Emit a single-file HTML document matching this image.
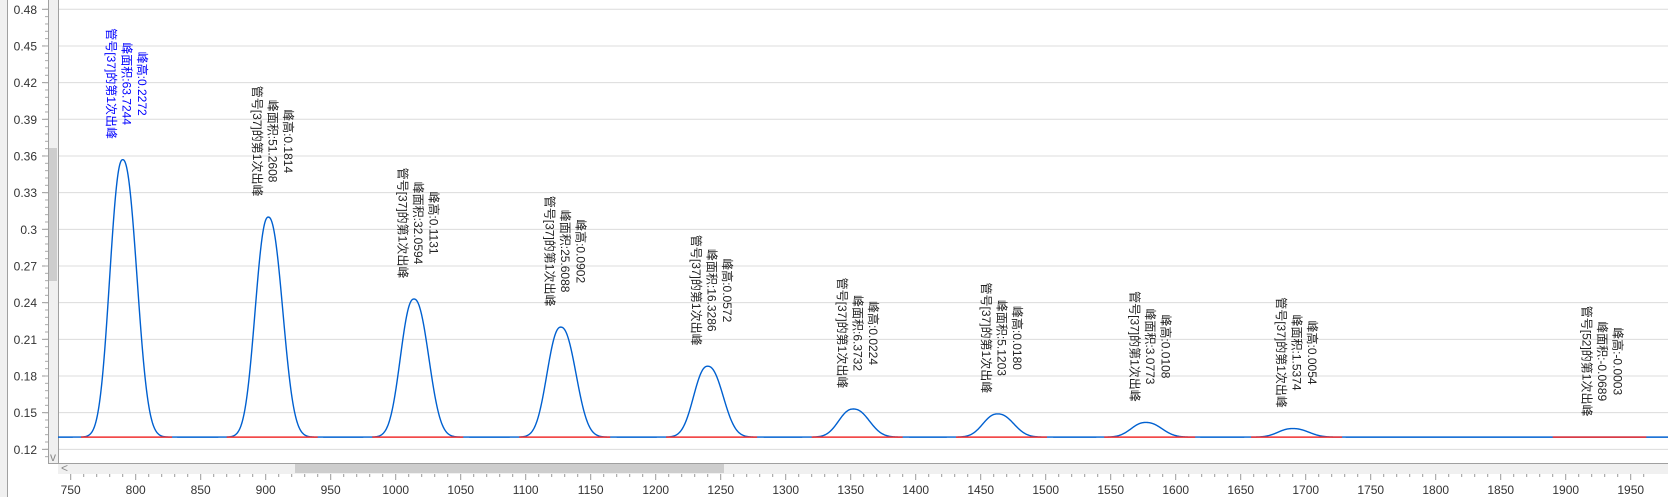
<!DOCTYPE html>
<html><head><meta charset="utf-8"><style>
html,body{margin:0;padding:0;background:#fff;width:1668px;height:497px;overflow:hidden}
svg{display:block}
text{font-family:"Liberation Sans","Noto Sans CJK SC",sans-serif;font-size:12px}
</style></head><body>
<svg id="s" width="1668" height="497" xmlns="http://www.w3.org/2000/svg"></svg>
<script>
const s=document.getElementById('s');
const X=v=>70.7+(v-750)*1.3;
const Y=v=>9.3+(0.48-v)/0.03*36.67;
let h='';
h+='<rect x="0" y="0" width="7" height="497" fill="#f0f0f0"/><line x1="7.5" y1="0" x2="7.5" y2="497" stroke="#a0a0a0"/>';
for(let i=0;i<=12;i++){const v=0.12+i*0.03;const y=Y(v);
 h+=`<line x1="58" y1="${y}" x2="1668" y2="${y}" stroke="#dcdcdc"/>`;
 h+=`<text x="37" y="${y+4.5}" text-anchor="end" fill="#333">${+v.toFixed(2)}</text>`;
 h+=`<line x1="42" y1="${y}" x2="48" y2="${y}" stroke="#999"/>`;}
for(let v=0.114;v<=0.486;v+=0.006){const y=Y(v);h+=`<line x1="45" y1="${y}" x2="48" y2="${y}" stroke="#aaa"/>`;}
h+='<rect x="48" y="0" width="10" height="463" fill="#f0f0f0"/><line x1="48.5" y1="0" x2="48.5" y2="463" stroke="#a0a0a0"/><line x1="58.5" y1="0" x2="58.5" y2="463" stroke="#a0a0a0"/>';
h+='<rect x="49" y="148" width="8" height="133" fill="#cdcdcd"/>';
h+='<text x="50" y="461" font-size="9" fill="#888">v</text>';
const peaks=[[790,0.357,9.6],[902,0.31,9.7],[1014,0.243,10],[1127,0.22,10.2],[1240,0.188,10.4],[1352,0.153,10.8],[1463,0.149,10.8],[1577,0.142,10.8],[1690,0.137,10.8]];
function f(x){let y=0.13;for(const [c,a,sg] of peaks){const d=x-c;const s2=d>0?sg*1.1:sg;const z=Math.abs(d)/s2;y+=(a-0.13)*Math.exp(-Math.pow(z,2.3)/2);}return y;}
let p='';for(let px=58;px<=1668;px+=0.5){const v=(px-70.7)/1.3+750;p+=(p?'L':'M')+px.toFixed(1)+','+Y(f(v)).toFixed(2);}
h+=`<path d="${p}" fill="none" stroke="#0060d0" stroke-width="1.4"/>`;
for(const [c] of peaks){h+=`<line x1="${X(c-32)}" y1="${Y(0.13)}" x2="${X(c+38)}" y2="${Y(0.13)}" stroke="#f03030" stroke-width="1.5"/>`;}
h+=`<line x1="${X(1890)}" y1="${Y(0.13)}" x2="${X(1962)}" y2="${Y(0.13)}" stroke="#f03030" stroke-width="1.5"/>`;
const labs=[[790,0.357,'0.2272','63.7244','37'],[902,0.31,'0.1814','51.2608','37'],[1014,0.243,'0.1131','32.0594','37'],[1127,0.22,'0.0902','25.6088','37'],[1240,0.188,'0.0572','16.3286','37'],[1352,0.153,'0.0224','6.3732','37'],[1463,0.149,'0.0180','5.1203','37'],[1577,0.142,'0.0108','3.0773','37'],[1690,0.137,'0.0054','1.5374','37'],[1925,0.13,'-0.0003','-0.0689','52']];
labs.forEach((l,i)=>{const cx=X(l[0])+4;const cy=Y(l[1])-76;const col=i==0?'#0000ff':'#222';
 const lines=['峰高:'+l[2],'峰面积:'+l[3],'管号['+l[4]+']的第1次出峰'];
 lines.forEach((t,j)=>{const x=cx+15.5-j*15.5-4;h+=`<text transform="translate(${x},${cy}) rotate(90)" text-anchor="middle" fill="${col}">${t}</text>`;});});
h+='<rect x="58" y="463" width="1610" height="11" fill="#f0f0f0"/><line x1="48" y1="463.5" x2="1668" y2="463.5" stroke="#a0a0a0"/>';
h+='<rect x="295" y="464" width="429" height="9" fill="#cdcdcd"/><text x="61" y="472" font-size="10" fill="#888">&lt;</text>';
for(let v=750;v<=1960;v+=10){const x=X(v);const maj=v%50==0;h+=`<line x1="${x}" y1="474" x2="${x}" y2="${maj?480:477}" stroke="#999"/>`;
 if(maj)h+=`<text x="${x}" y="494" text-anchor="middle" fill="#333">${v}</text>`;}
s.innerHTML=h;
</script>
</body></html>
